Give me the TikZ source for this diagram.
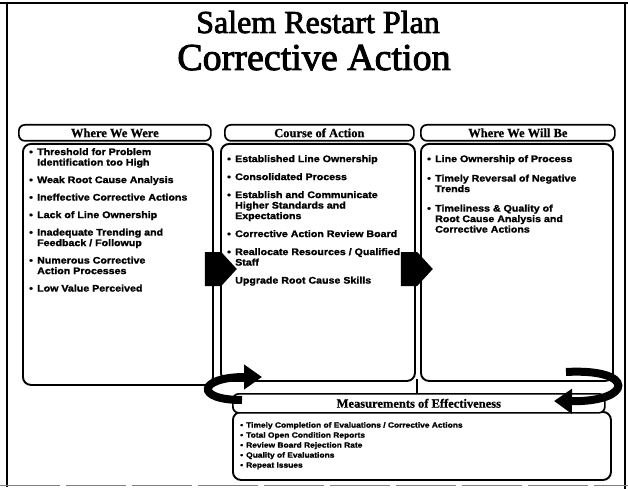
\documentclass[tikz,border=0pt]{standalone}
\usepackage{fontspec}
\setmainfont{Liberation Serif}
\newfontfamily\titlefont[FakeBold=2.4]{Liberation Serif}
\newfontfamily\headfont[FakeBold=0.8]{Liberation Serif}
\newfontfamily\bodyfont[FakeStretch=1.12,FakeBold=1.6]{Liberation Sans}
\usetikzlibrary{arrows.meta,shapes.symbols}
\newcommand\bu{\makebox[8pt][l]{\textbullet}}
\newcommand\ind{\hspace*{8pt}}
\newcommand\sbu{\makebox[6pt][l]{\textbullet}}
\begin{document}
\begin{tikzpicture}[x=1pt,y=-1pt,
  frameline/.style={line width=1.3pt},
  pill/.style={draw, line width=1.7pt, rounded corners=6pt, minimum height=16pt, inner sep=0pt, anchor=north west, font=\headfont\bfseries\fontsize{12.5}{13}\selectfont},
  panel/.style={draw, line width=1.9pt, rounded corners=8pt, anchor=north west, inner sep=0pt},
  body/.style={anchor=north west, align=left, inner sep=0pt, font=\bodyfont\bfseries\fontsize{9.5}{10.5}\selectfont},
  smallbody/.style={anchor=north west, align=left, inner sep=0pt, font=\bodyfont\bfseries\fontsize{7.5}{10}\selectfont},
  blockarrow/.style={signal, signal to=east, fill=black, inner sep=0pt, minimum width=32pt, minimum height=34pt, signal pointer angle=95},
  curvarrow/.style={line width=8pt, -{Triangle[length=18pt,width=24pt]}},
  joinline/.style={line width=1.9pt}
]
\useasboundingbox (0,0) rectangle (628,489);
% frame
\coordinate (ftl) at (7,2);
\coordinate (fbl) at (7,487);
\coordinate (tl) at (0,3);
\coordinate (tr) at (628,3);
\coordinate (ftr) at (625,3);
\coordinate (fbr) at (625,489);
\coordinate (bl) at (0,485);
\coordinate (br) at (628,485);
\draw[frameline] (ftl) -- (fbl);
\draw[frameline] (tl) -- (tr);
\draw[frameline] (ftr) -- (fbr);
\draw[gray, line width=1pt, dash pattern=on 60pt off 6pt] (bl) -- (br);
% titles
\node[anchor=base, font=\titlefont\fontsize{32}{34}\selectfont, inner sep=0pt] (t1) at (318,33) {Salem Restart Plan};
\node[anchor=base, font=\titlefont\fontsize{38}{40}\selectfont, inner sep=0pt] (t2) at (314,70) {Corrective Action};
% panels
\node[panel, minimum width=190pt, minimum height=241pt] (lbox) at (22,143) {};
\node[panel, minimum width=194pt, minimum height=237pt] (mbox) at (220,143) {};
\node[panel, minimum width=192pt, minimum height=237pt] (rbox) at (420,143) {};
% header pills
\node[pill, minimum width=192pt] (lh) at (18,124) {Where We Were};
\node[pill, minimum width=189pt] (mh) at (224,124) {Course of Action};
\node[pill, minimum width=194pt] (rh) at (420,124) {Where We Will Be};
% body texts
\node[body] (lt) at (29,148) {\bu Threshold for Problem\\ \ind Identification too High\\[7pt]
\bu Weak Root Cause Analysis\\[7pt]
\bu Ineffective Corrective Actions\\[7pt]
\bu Lack of Line Ownership\\[7pt]
\bu Inadequate Trending and\\ \ind Feedback / Followup\\[7pt]
\bu Numerous Corrective\\ \ind Action Processes\\[7pt]
\bu Low Value Perceived};
\node[body] (mt) at (227,155) {\bu Established Line Ownership\\[7.5pt]
\bu Consolidated Process\\[7.5pt]
\bu Establish and Communicate\\ \ind Higher Standards and\\ \ind Expectations\\[7.5pt]
\bu Corrective Action Review Board\\[7.5pt]
\bu Reallocate Resources / Qualified\\ \ind Staff\\[7.5pt]
\ind Upgrade Root Cause Skills};
\node[body] (rt) at (427,155) {\bu Line Ownership of Process\\[9pt]
\bu Timely Reversal of Negative\\ \ind Trends\\[9pt]
\bu Timeliness \& Quality of\\ \ind Root Cause Analysis and\\ \ind Corrective Actions};
% measurement box
\node[panel, minimum width=378pt, minimum height=68pt] (bbox) at (232,411) {};
\node[pill, minimum width=372pt, minimum height=19pt, fill=white] (bh) at (232,393) {Measurements of Effectiveness};
\node[smallbody] (bt) at (240,422) {\sbu Timely Completion of Evaluations / Corrective Actions\\
\sbu Total Open Condition Reports\\
\sbu Review Board Rejection Rate\\
\sbu Quality of Evaluations\\
\sbu Repeat Issues};
% junction line
\coordinate (j) at (417,379);
\draw[joinline] (j) -- (j |- bh.north);
% block arrows
\node[blockarrow] (a1) at (213,269) {};
\node[blockarrow] (a2) at (409,269) {};
% curved arrows
\coordinate (c1s) at (242,400);
\coordinate (c1e) at (262,377);
\draw[curvarrow] (c1s) .. controls (194,400) and (198,377) .. (c1e);
\coordinate (c2s) at (566,372);
\coordinate (c2e) at (554,401);
\draw[curvarrow] (c2s) .. controls (636,368) and (634,402) .. (c2e);
\end{tikzpicture}
\end{document}
